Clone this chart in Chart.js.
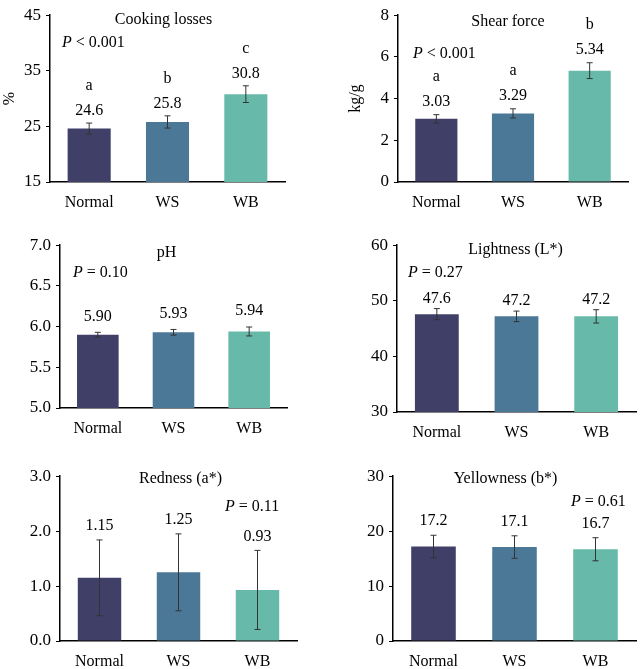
<!DOCTYPE html>
<html>
<head>
<meta charset="utf-8">
<script src="https://cdn.jsdelivr.net/npm/chart.js@4"></script>
<style>
  html, body { margin: 0; padding: 0; background: #fff; overflow: hidden; }
  body { width: 642px; height: 669px; position: relative; }
  canvas { position: absolute; }
</style>
</head>
<body>
<canvas id="c1"></canvas>
<canvas id="c2"></canvas>
<canvas id="c3"></canvas>
<canvas id="c4"></canvas>
<canvas id="c5"></canvas>
<canvas id="c6"></canvas>
<script>
// Datos
var categories = ["Normal", "WS", "WB"];
var barColors = ["#403f67", "#4b7896", "#67baaa"];

var cookingLoss = [24.6, 25.8, 30.8];
var cookingLossSd = [1.0, 1.1, 1.5];
var cookingLetters = ["a", "b", "c"];

var shearForce = [3.03, 3.29, 5.34];
var shearForceSd = [0.2, 0.22, 0.38];
var shearLetters = ["a", "a", "b"];

var phValues = [5.90, 5.93, 5.94];
var phSd = [0.03, 0.035, 0.055];

var lightness = [47.6, 47.2, 47.2];
var lightnessSd = [1.0, 0.95, 1.2];

var redness = [1.15, 1.25, 0.93];
var rednessSd = [0.69, 0.70, 0.72];

var yellowness = [17.2, 17.1, 16.7];
var yellownessSd = [2.05, 2.05, 2.1];

var serif = "'Liberation Serif', 'Times New Roman', serif";

// Plugin: barras de error, etiquetas, título y valor P
var annotPlugin = {
  id: "annot",
  afterDatasetsDraw: function (chart, args, o) {
    var ctx = chart.ctx;
    var y = chart.scales.y;
    var meta = chart.getDatasetMeta(0);
    var area = chart.chartArea;
    ctx.save();
    ctx.fillStyle = "#000";
    ctx.textAlign = "center";
    ctx.textBaseline = "middle";
    ctx.font = "16px " + serif;
    o.values.forEach(function (v, i) {
      var x = meta.data[i].x;
      var yt = y.getPixelForValue(v + o.sd[i]);
      var yb = y.getPixelForValue(v - o.sd[i]);
      ctx.strokeStyle = "#333";
      ctx.lineWidth = 1;
      ctx.beginPath();
      ctx.moveTo(x, yt); ctx.lineTo(x, yb);
      ctx.moveTo(x - 3, yt); ctx.lineTo(x + 3, yt);
      ctx.moveTo(x - 3, yb); ctx.lineTo(x + 3, yb);
      ctx.stroke();
      var ly = yt - o.gap;
      ctx.fillText(v.toFixed(o.dec), x, ly);
      if (o.letters) ctx.fillText(o.letters[i], x, ly - 25);
    });
    // título
    ctx.fillText(o.title, (area.left + area.right) / 2 + o.tdx, area.top + o.tdy);
    // valor P
    ctx.textAlign = "left";
    var px = area.left + o.pdx, py = area.top + o.pdy;
    ctx.font = "italic 16px " + serif;
    ctx.fillText("P", px, py);
    var w = ctx.measureText("P").width;
    ctx.font = "16px " + serif;
    ctx.fillText(o.ptext, px + w, py);
    ctx.restore();
  }
};

function makeChart(id, rect, yw, yr, ytitle, annot) {
  var padTop = 10, padRight = 5, xh = 34;
  var left = rect.l - yw, top = rect.t - padTop;
  var cv = document.getElementById(id);
  cv.width = rect.r - left + padRight;
  cv.height = rect.b - top + xh;
  cv.style.left = left + "px";
  cv.style.top = top + "px";
  return new Chart(cv, {
    type: "bar",
    data: {
      labels: categories,
      datasets: [{
        data: annot.values,
        backgroundColor: barColors,
        borderWidth: 0,
        barPercentage: 0.55,
        categoryPercentage: 1
      }]
    },
    options: {
      responsive: false,
      animation: false,
      devicePixelRatio: 1,
      layout: { padding: { top: padTop, right: padRight, left: 0, bottom: 0 } },
      plugins: { legend: { display: false }, tooltip: { enabled: false }, annot: annot },
      scales: {
        x: {
          grid: { display: false },
          border: { display: true, color: "#000", width: 1.5 },
          ticks: { color: "#000", font: { family: serif, size: 16 }, padding: 3 },
          afterFit: function (s) { s.height = xh; }
        },
        y: {
          min: yr.min, max: yr.max,
          grid: { display: true, drawOnChartArea: false, drawTicks: true, tickLength: 4, color: "#000" },
          border: { display: true, color: "#000", width: 1.5 },
          ticks: {
            stepSize: yr.step, color: "#000", padding: 5,
            font: { family: serif, size: 17 },
            callback: function (v) { return v.toFixed(yr.dec); }
          },
          title: { display: !!ytitle, text: ytitle, color: "#000", font: { family: serif, size: 16 }, padding: 0 },
          afterFit: function (s) { s.width = yw; }
        }
      }
    },
    plugins: [annotPlugin]
  });
}

makeChart("c1", { l: 50, t: 10, r: 285, b: 182 }, 50, { min: 15, max: 45, step: 10, dec: 0 }, "%",
  { values: cookingLoss, sd: cookingLossSd, letters: cookingLetters, dec: 1, gap: 12,
    title: "Cooking losses", tdx: -4, tdy: 5, ptext: " < 0.001", pdx: 12, pdy: 28 });

makeChart("c2", { l: 398, t: 10, r: 628, b: 182 }, 52, { min: 0, max: 8, step: 2, dec: 0 }, "kg/g",
  { values: shearForce, sd: shearForceSd, letters: shearLetters, dec: 2, gap: 13,
    title: "Shear force", tdx: -5, tdy: 7, ptext: " < 0.001", pdx: 15, pdy: 39 });

makeChart("c3", { l: 60, t: 240, r: 287, b: 408 }, 60, { min: 5, max: 7, step: 0.5, dec: 1 }, "",
  { values: phValues, sd: phSd, dec: 2, gap: 16,
    title: "pH", tdx: -7, tdy: 8, ptext: " = 0.10", pdx: 13, pdy: 28 });

makeChart("c4", { l: 397, t: 240, r: 636, b: 412 }, 60, { min: 30, max: 60, step: 10, dec: 0 }, "",
  { values: lightness, sd: lightnessSd, dec: 1, gap: 10,
    title: "Lightness (L*)", tdx: -1, tdy: 5, ptext: " = 0.27", pdx: 11, pdy: 28 });

makeChart("c5", { l: 60, t: 471, r: 297, b: 641 }, 60, { min: 0, max: 3, step: 1, dec: 1 }, "",
  { values: redness, sd: rednessSd, dec: 2, gap: 14,
    title: "Redness (a*)", tdx: 2, tdy: 3, ptext: " = 0.11", pdx: 165, pdy: 31 });

makeChart("c6", { l: 393, t: 471, r: 636, b: 641 }, 56, { min: 0, max: 30, step: 10, dec: 0 }, "",
  { values: yellowness, sd: yellownessSd, dec: 1, gap: 14,
    title: "Yellowness (b*)", tdx: -9, tdy: 3, ptext: " = 0.61", pdx: 178, pdy: 26 });
</script>
</body>
</html>
